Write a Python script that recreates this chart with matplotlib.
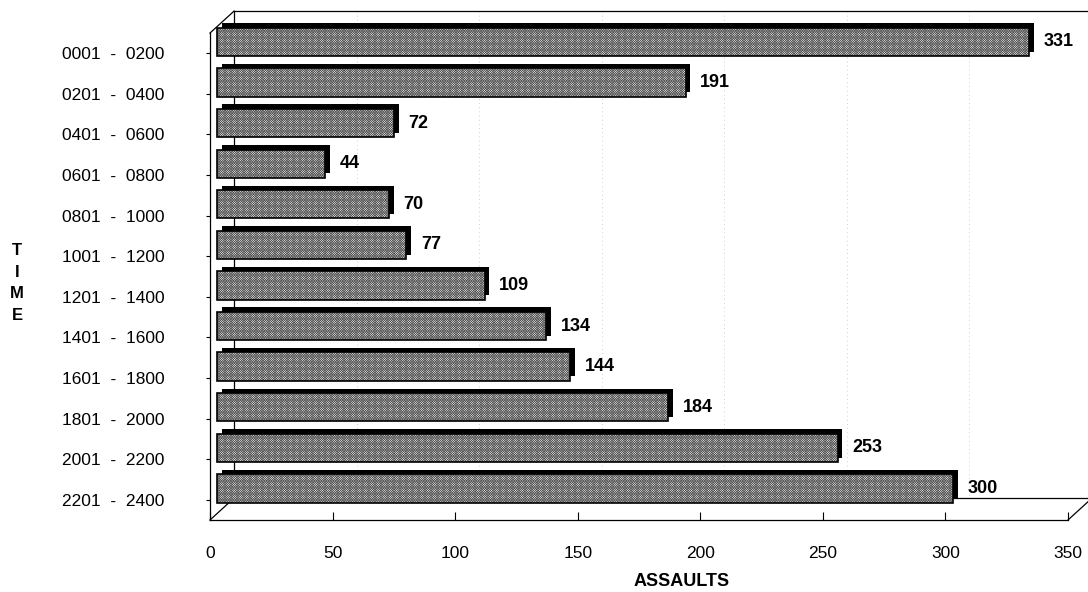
import matplotlib.pyplot as plt

plt.rcParams['font.family'] = ['Liberation Sans', 'DejaVu Sans']
plt.rcParams['hatch.linewidth'] = 0.5

# -------------------------
# DATA
# -------------------------
time_bins = ["0001  -  0200", "0201  -  0400", "0401  -  0600", "0601  -  0800",
             "0801  -  1000", "1001  -  1200", "1201  -  1400", "1401  -  1600",
             "1601  -  1800", "1801  -  2000", "2001  -  2200", "2201  -  2400"]
assaults = [331, 191, 72, 44, 70, 77, 109, 134, 144, 184, 253, 300]
x_ticks = [0, 50, 100, 150, 200, 250, 300, 350]

# pseudo-3d offsets (data units)
BAR_DX, BAR_DY = 3.0, -0.28       # bar front face sits a bit back
SIDE_DX, SIDE_DY = 2.0, -0.11     # black top / right side of each bar
BACK_DX, BACK_DY = 9.8, -0.54     # back wall of the box
BAR_H = 0.70

fig = plt.figure(figsize=(10.88, 5.92), dpi=100)
ax = fig.add_axes([0.1930, 0.1216, 0.7886, 0.8226])

n = len(time_bins)
ypos = [i + 0.5 for i in range(n)]
ybar = [y + BAR_DY for y in ypos]

ax.set_xlim(0, 350)
ax.set_ylim(n, 0)

# back wall gridlines (faint dotted)
for t in x_ticks[1:-1]:
    ax.plot([t + BACK_DX, t + BACK_DX], [BACK_DY, n + BACK_DY],
            color="#c0c0c0", lw=0.6, ls=(0, (1, 4)), zorder=0.5, clip_on=False)

# box lines
box = dict(color="black", lw=0.9, clip_on=False, zorder=1)
ax.plot([0, BACK_DX], [0, BACK_DY], **box)
ax.plot([BACK_DX, 350 + BACK_DX + 5], [BACK_DY, BACK_DY], **box)
ax.plot([BACK_DX, BACK_DX], [BACK_DY, n + BACK_DY], **box)
ax.plot([0, BACK_DX], [n, n + BACK_DY], **box)
ax.plot([BACK_DX, 350 + BACK_DX], [n + BACK_DY, n + BACK_DY], **box)
ax.plot([350, 350 + BACK_DX], [n, n + BACK_DY], **box)

# bars: black side block, hatched front face, outline
sides = ax.barh([y + SIDE_DY for y in ybar], assaults, height=BAR_H,
                left=BAR_DX + SIDE_DX, color="black", zorder=2)
faces = ax.barh(ybar, assaults, height=BAR_H, left=BAR_DX, color="#f4f4f4",
                edgecolor="#555555", linewidth=0, hatch="x" * 14, zorder=3)
edges = ax.barh(ybar, assaults, height=BAR_H, left=BAR_DX, fill=False,
                edgecolor="black", linewidth=1.2, zorder=4)
for cont in (sides, faces, edges):
    for p in cont:
        p.set_clip_on(False)

for y, v in zip(ybar, assaults):
    ax.text(BAR_DX + SIDE_DX + v + 4, y, str(v), ha="left", va="center",
            fontsize=13, fontweight="bold", zorder=5)

ax.set_xticks(x_ticks)
ax.set_xticklabels([str(t) for t in x_ticks], fontsize=12.5)
ax.tick_params(axis="x", direction="in", length=6, width=0.8, pad=19)
ax.set_yticks(ypos)
ax.set_yticklabels(time_bins, fontsize=12.5)
ax.tick_params(axis="y", direction="out", length=3, width=0.8, pad=30)

for side in ["top", "right"]:
    ax.spines[side].set_visible(False)
ax.spines["left"].set_linewidth(0.9)
ax.spines["bottom"].set_linewidth(0.9)

fig.text(682 / 1088, 1 - 581 / 592, "ASSAULTS", ha="center", va="center",
         fontsize=13, fontweight="bold")
fig.text(17 / 1088, 1 - 283 / 592, "T\nI\nM\nE", ha="center", va="center",
         fontsize=12, fontweight="bold", linespacing=1.55)

fig.savefig("out.png", dpi=100)
